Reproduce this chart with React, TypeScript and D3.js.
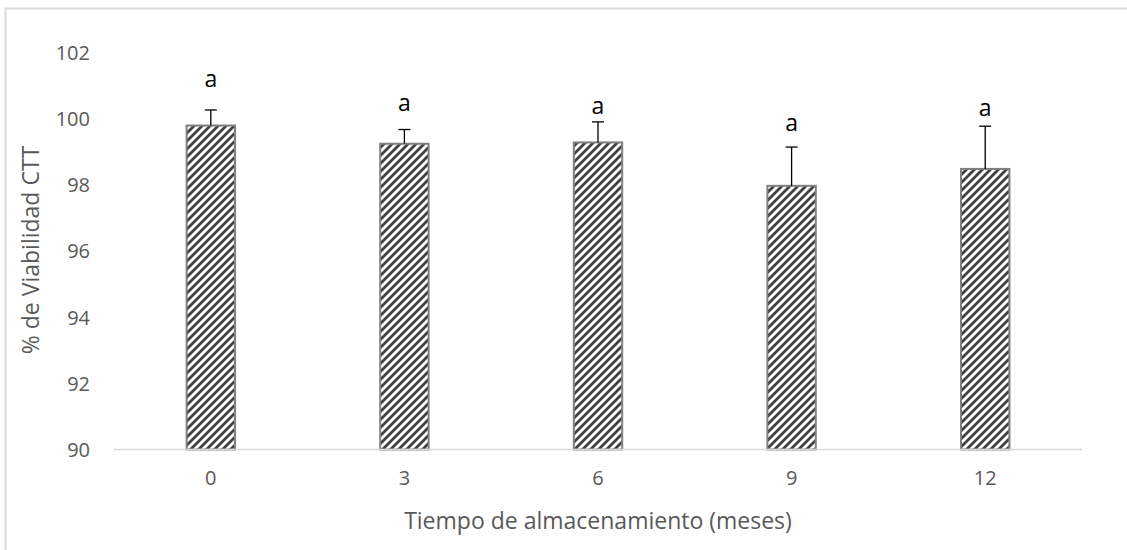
import React from "react";
import * as d3 from "d3";

const categories = ["0", "3", "6", "9", "12"];
const values = [99.78, 99.23, 99.27, 97.96, 98.47];
const errors = [0.47, 0.43, 0.62, 1.17, 1.29];
const letters = ["a", "a", "a", "a", "a"];
const letterLevels = [101.22, 100.5, 100.4, 99.9, 100.35];
const yTicks = [90, 92, 94, 96, 98, 100, 102];

const W = 1127;
const H = 550;
const FONT = "'Open Sans', Lato, sans-serif";

export default function App() {
  const x = d3.scaleBand<string>().domain(categories).range([114, 1082]).paddingInner(0.75).paddingOuter(0.375);
  const y = d3.scaleLinear().domain([90, 102]).range([449.5, 52]);
  const bw = x.bandwidth();

  return (
    <svg width={W} height={H} style={{ position: "absolute", left: 0, top: 0, background: "#fff" }}>
      <defs>
        <pattern id="hatch" patternUnits="userSpaceOnUse" width={8} height={8}>
          <rect width={8} height={8} fill="#fff" />
          <path d="M-2,2 L2,-2 M0,8 L8,0 M6,10 L10,6" stroke="#404040" strokeWidth={2.8} />
        </pattern>
      </defs>
      <rect x={5.5} y={8.5} width={1140} height={560} fill="#fff" stroke="#d9d9d9" strokeWidth={2} />
      {yTicks.map((t) => (
        <text key={t} x={90} y={y(t)} textAnchor="end" dominantBaseline="central" fontFamily={FONT} fontSize={20} fill="#595959">
          {t}
        </text>
      ))}
      {categories.map((c, i) => {
        const cx = (x(c) as number) + bw / 2;
        const top = y(values[i]);
        const et = y(values[i] + errors[i]);
        return (
          <g key={c}>
            <rect x={x(c)} y={top} width={bw} height={y(90) - top} fill="url(#hatch)" stroke="#808080" strokeWidth={2} />
            <line x1={cx} x2={cx} y1={top} y2={et} stroke="#000" strokeWidth={1.3} />
            <line x1={cx - 6} x2={cx + 6} y1={et} y2={et} stroke="#000" strokeWidth={1.3} />
            <text x={cx} y={y(letterLevels[i])} textAnchor="middle" dominantBaseline="central" fontFamily={FONT} fontSize={23} fill="#000">
              {letters[i]}
            </text>
            <text x={cx} y={477} textAnchor="middle" dominantBaseline="central" fontFamily={FONT} fontSize={20} fill="#595959">
              {c}
            </text>
          </g>
        );
      })}
      <line x1={114} x2={1082} y1={449.5} y2={449.5} stroke="#d9d9d9" strokeWidth={1.5} />
      <text x={598} y={520} textAnchor="middle" dominantBaseline="central" fontFamily={FONT} fontSize={23} fill="#595959">
        Tiempo de almacenamiento (meses)
      </text>
      <text transform="translate(30,250) rotate(-90)" textAnchor="middle" dominantBaseline="central" fontFamily={FONT} fontSize={23} fill="#595959">
        % de Viabilidad CTT
      </text>
    </svg>
  );
}
